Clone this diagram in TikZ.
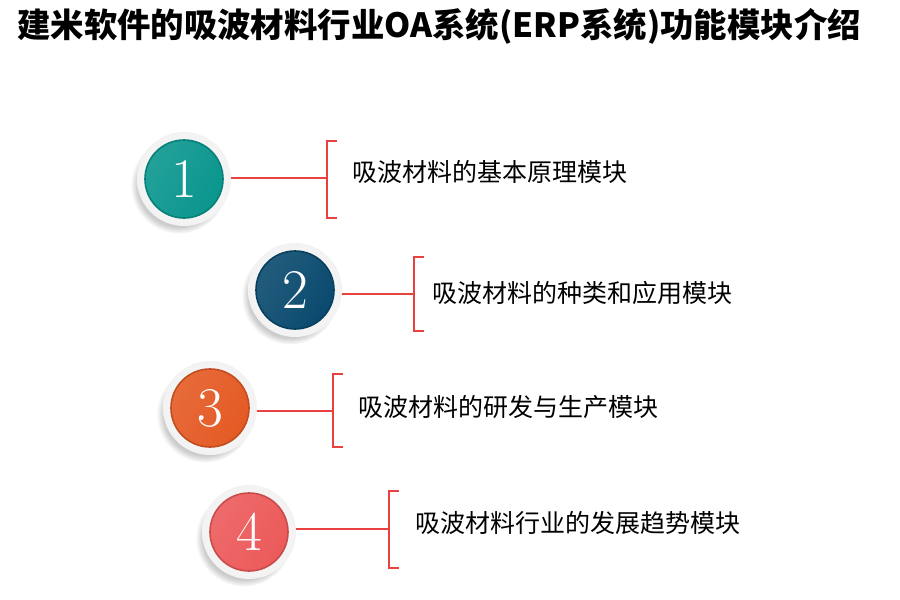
\documentclass[tikz,border=0pt]{standalone}
\usepackage{fontspec}
\newfontfamily\cjk{Noto Sans CJK SC}
\usetikzlibrary{shadows}

\definecolor{tealball}{HTML}{0A968E}
\definecolor{blueball}{HTML}{0A4A6E}
\definecolor{orangeball}{HTML}{E45A24}
\definecolor{coralball}{HTML}{EC5A5A}
\definecolor{linered}{HTML}{E8413F}

\tikzset{
  ring/.style={circle, minimum size=94pt, inner sep=0pt, draw=none,
    inner color=white, outer color=gray!10,
    circular drop shadow={shadow xshift=-5pt, shadow yshift=-6pt, shadow scale=1.03, opacity=.4}},
  ball/.style={circle, minimum size=78pt, inner sep=0pt, text=white,
    font=\fontsize{56}{56}\selectfont, line width=1.6pt,
    draw=#1!85!black, shading=axis, left color=#1!90!white, right color=#1, shading angle=60},
  conn/.style={draw=linered, line width=1.3pt},
  brk/.style={draw=linered, line width=1.3pt},
  item/.style={anchor=west, inner sep=0pt, font=\cjk\fontsize{25}{25}\selectfont}
}

\begin{document}
\begin{tikzpicture}[x=1pt, y=-1pt]
    % Khung 900 x 600
    \useasboundingbox (0,0) rectangle (900,600);

    % Tieu de
    \node (title) [anchor=west, inner sep=0pt, font=\cjk\bfseries\fontsize{33.4}{33.4}\selectfont]
        at (17,26) {建米软件的吸波材料行业OA系统(ERP系统)功能模块介绍};

    % Muc 1
    \node (r1) [ring] at (184,179) {};
    \node (b1) [ball=tealball] at (184,179) {1};
    \coordinate (k1) at (327,178);
    \draw[conn] (k1 -| r1.east) -- (k1);
    \draw[brk] (337,141) -- (327,141) -- (327,218) -- (337,218);
    \node (t1) [item] at (352,172) {吸波材料的基本原理模块};

    % Muc 2
    \node (r2) [ring] at (295,290) {};
    \node (b2) [ball=blueball] at (295,290) {2};
    \coordinate (k2) at (414,294);
    \draw[conn] (k2 -| r2.east) -- (k2);
    \draw[brk] (424,257) -- (414,257) -- (414,331) -- (424,331);
    \node (t2) [item] at (432,293) {吸波材料的种类和应用模块};

    % Muc 3
    \node (r3) [ring] at (210,408) {};
    \node (b3) [ball=orangeball] at (210,408) {3};
    \coordinate (k3) at (333,411);
    \draw[conn] (k3 -| r3.east) -- (k3);
    \draw[brk] (343,374) -- (333,374) -- (333,447) -- (343,447);
    \node (t3) [item] at (358,407) {吸波材料的研发与生产模块};

    % Muc 4
    \node (r4) [ring] at (249,532) {};
    \node (b4) [ball=coralball] at (249,532) {4};
    \coordinate (k4) at (389,529);
    \draw[conn] (k4 -| r4.east) -- (k4);
    \draw[brk] (399,491) -- (389,491) -- (389,568) -- (399,568);
    \node (t4) [item] at (415,523) {吸波材料行业的发展趋势模块};

\end{tikzpicture}
\end{document}
